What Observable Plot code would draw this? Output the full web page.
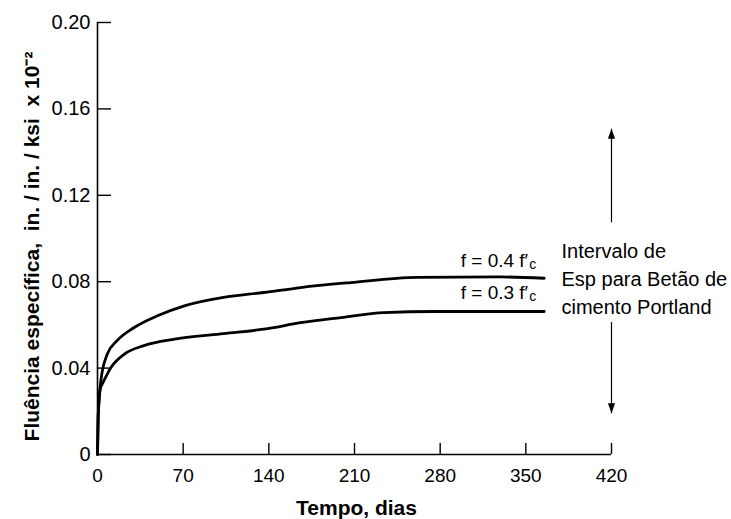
<!DOCTYPE html>
<html>
<head>
<meta charset="utf-8">
<script src="https://cdn.jsdelivr.net/npm/d3@7"></script>
<script src="https://cdn.jsdelivr.net/npm/@observablehq/plot@0.6"></script>
<style>
  html, body { margin: 0; padding: 0; background: white; }
</style>
</head>
<body>
<div id="chart"></div>
<script>
// Tick values
const xTicks = [0, 70, 140, 210, 280, 350, 420];
const yTicks = [0, 0.04, 0.08, 0.12, 0.16, 0.20];

// Series: f = 0.4 f'c
const tUpper = [0, 0.6, 2.5, 4, 8, 16, 30, 49, 71, 103, 136, 166, 207, 261, 329, 365];
const vUpper = [0, 0.018, 0.033, 0.0388, 0.0465, 0.0527, 0.0588, 0.0642, 0.0688, 0.0727, 0.075, 0.0773, 0.0796, 0.082, 0.0822, 0.0816];

// Series: f = 0.3 f'c
const tLower = [0, 0.6, 2.5, 4, 11, 22, 38, 63, 103, 136, 166, 199, 234, 275, 320, 365];
const vLower = [0, 0.018, 0.031, 0.0327, 0.0403, 0.0465, 0.0504, 0.0534, 0.056, 0.058, 0.061, 0.0634, 0.0657, 0.0662, 0.0662, 0.0662];

const seriesLabels = ["f = 0.4 f′", "f = 0.3 f′"];
const subscript = "c";

// Range arrows for Portland cement concrete
const arrowX = 420;
const arrowFrom = [0.1075, 0.0613];
const arrowTo = [0.1508, 0.0191];
const noteLines = ["Intervalo de", "Esp para Betão de", "cimento Portland"];

const xLabel = "Tempo, dias";
const yLabel = "Fluência específica,  in. / in. / ksi  x 10⁻²";

// Build tables
const rows = [
  ...tUpper.map((t, i) => ({t, v: vUpper[i], s: seriesLabels[0]})),
  ...tLower.map((t, i) => ({t, v: vLower[i], s: seriesLabels[1]}))
];
const ends = [
  {t: tUpper[tUpper.length - 1], v: vUpper[vUpper.length - 1], s: seriesLabels[0]},
  {t: tLower[tLower.length - 1], v: vLower[vLower.length - 1], s: seriesLabels[1]}
];
const labelDy = [-11, -13];
const arrows = arrowFrom.map((y1, i) => ({x: arrowX, y1, y2: arrowTo[i]}));

const headUp = {draw(ctx) { ctx.moveTo(0, 0); ctx.lineTo(-3.6, 10); ctx.lineTo(3.6, 10); ctx.closePath(); }};
const headDown = {draw(ctx) { ctx.moveTo(0, 0); ctx.lineTo(-3.6, -10); ctx.lineTo(3.6, -10); ctx.closePath(); }};

const font = "'Liberation Sans', Arial, Helvetica, sans-serif";

const labelMarks = ends.flatMap((e, i) => [
  Plot.text([e], {x: "t", y: "v", text: "s", textAnchor: "end", lineAnchor: "bottom", dx: -16, dy: labelDy[i], fontSize: 19}),
  Plot.text([e], {x: "t", y: "v", text: () => subscript, textAnchor: "start", lineAnchor: "bottom", dx: -15, dy: labelDy[i] + 2, fontSize: 14})
]);

const chart = Plot.plot({
  width: 731,
  height: 519,
  marginLeft: 97,
  marginRight: 120,
  marginTop: 22,
  marginBottom: 65,
  style: {fontFamily: font, fontSize: "20px", color: "black", background: "white"},
  x: {domain: [0, 420]},
  y: {domain: [0, 0.2]},
  marks: [
    Plot.ruleX([0], {stroke: "black", strokeWidth: 1.6}),
    Plot.ruleY([0], {stroke: "black", strokeWidth: 1.6}),
    Plot.axisY(yTicks, {tickSize: -14, fill: "none", strokeWidth: 1.4}),
    Plot.axisY(yTicks, {tickSize: 0, tickPadding: 7, label: null, tickFormat: d => d === 0 ? "0" : d.toFixed(2), fontSize: 20}),
    Plot.axisX(xTicks.slice(1), {tickSize: -11, fill: "none", strokeWidth: 1.4}),
    Plot.axisX(xTicks, {tickSize: 0, tickPadding: 14, label: null, tickFormat: d => String(d), fontSize: 19}),
    Plot.line(rows, {x: "t", y: "v", z: "s", curve: "monotone-x", stroke: "black", strokeWidth: 2.8}),
    ...labelMarks,
    Plot.link(arrows, {x1: "x", x2: "x", y1: "y1", y2: "y2", stroke: "black", strokeWidth: 1.2}),
    Plot.dot([arrows[0]], {x: "x", y: "y2", symbol: headUp, fill: "black", stroke: "none"}),
    Plot.dot([arrows[1]], {x: "x", y: "y2", symbol: headDown, fill: "black", stroke: "none"}),
    Plot.text([noteLines.join("\n")], {
      x: () => arrowX, y: () => (arrowFrom[0] + arrowFrom[1]) / 2,
      textAnchor: "start", lineAnchor: "middle", lineHeight: 1.38, dx: -50, dy: 5, fontSize: 20
    }),
    Plot.text([xLabel], {frameAnchor: "bottom", textAnchor: "middle", lineAnchor: "bottom", dx: 2, dy: 60, fontWeight: "bold", fontSize: 21}),
    Plot.text([yLabel], {frameAnchor: "left", textAnchor: "middle", rotate: -90, lineAnchor: "bottom", dx: -59, dy: 8, fontWeight: "bold", fontSize: 21})
  ]
});
document.getElementById("chart").appendChild(chart);
</script>
</body>
</html>
